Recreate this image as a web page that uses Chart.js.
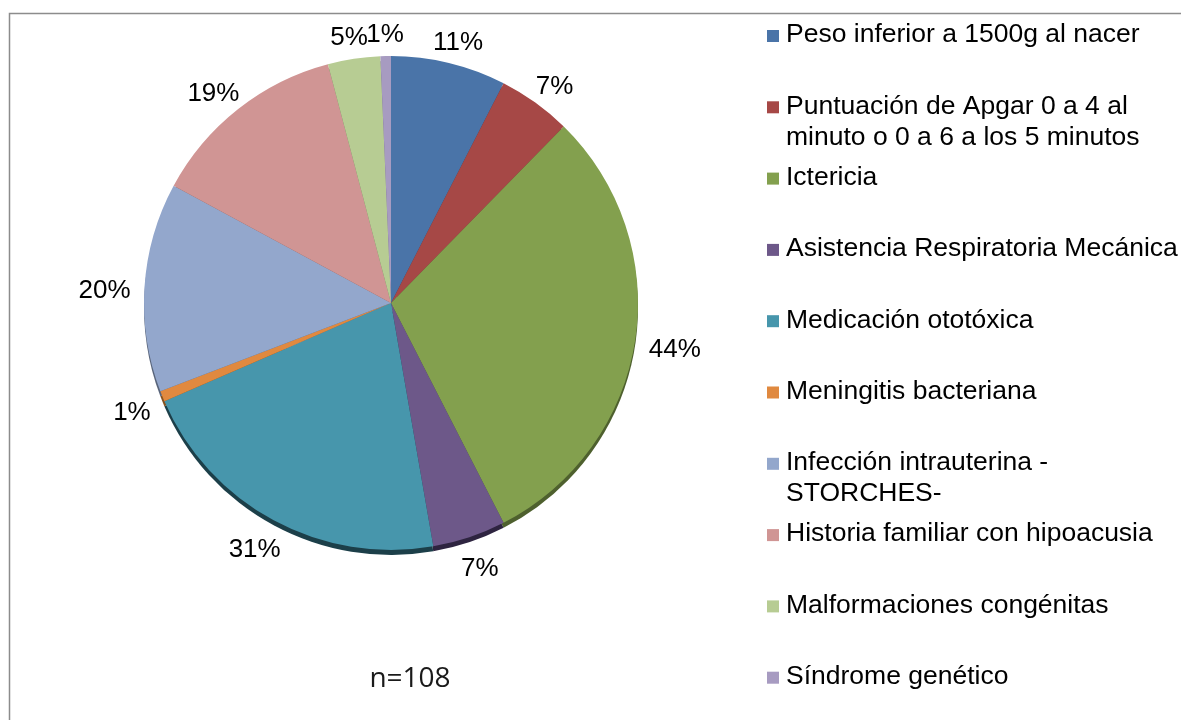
<!DOCTYPE html>
<html>
<head>
<meta charset="utf-8">
<script src="https://cdn.jsdelivr.net/npm/chart.js@4"></script>
<style>
  html, body { margin: 0; padding: 0; background: #fff; }
  #wrap { width: 1181px; height: 720px; }
</style>
</head>
<body>
<div id="wrap"><canvas id="pie" width="1181" height="720"></canvas></div>
<script>
// Risk factors (percent of n=108, one child may have several)
const categories = [
  ["Peso inferior a 1500g al nacer"],
  ["Puntuación de Apgar 0 a 4 al", "minuto o 0 a 6 a los 5 minutos"],
  ["Ictericia"],
  ["Asistencia Respiratoria Mecánica"],
  ["Medicación ototóxica"],
  ["Meningitis bacteriana"],
  ["Infección intrauterina -", "STORCHES-"],
  ["Historia familiar con hipoacusia"],
  ["Malformaciones congénitas"],
  ["Síndrome genético"]
];
const percents = [11, 7, 44, 7, 31, 1, 20, 19, 5, 1];
const sliceColors = ["#4A74A8", "#A64846", "#83A04E", "#6D5889", "#4796AC",
                     "#E0893F", "#93A7CC", "#D09594", "#B7CC93", "#A79BC1"];
const edgeColors = ["#2C4566", "#632A29", "#4E602E", "#2E2440", "#1C3F49",
                    "#86521F", "#58647A", "#7D5958", "#6E7A58", "#645D73"];
const sampleNote = "n=108";

const FONT = "'Liberation Sans', Arial, sans-serif";

// gray frame around the chart
const framePlugin = {
  id: "frame",
  beforeDraw(chart) {
    const ctx = chart.ctx;
    ctx.save();
    ctx.strokeStyle = "#8c8c8c";
    ctx.lineWidth = 1.5;
    ctx.strokeRect(9.5, 13.5, 1200, 800);
    ctx.restore();
  }
};

// darker rim under the pie, fakes the 3D edge
const rimPlugin = {
  id: "rim",
  beforeDatasetsDraw(chart) {
    const ctx = chart.ctx;
    const arcs = chart.getDatasetMeta(0).data;
    ctx.save();
    arcs.forEach((arc, i) => {
      const p = arc.getProps(["x", "y", "startAngle", "endAngle", "outerRadius"], true);
      ctx.beginPath();
      ctx.moveTo(p.x, p.y + 5);
      ctx.arc(p.x, p.y + 5, p.outerRadius, p.startAngle, p.endAngle);
      ctx.closePath();
      ctx.fillStyle = edgeColors[i];
      ctx.fill();
    });
    ctx.restore();
  }
};

// percent labels just outside each slice
const pctLabelPlugin = {
  id: "pctLabels",
  afterDatasetsDraw(chart) {
    const ctx = chart.ctx;
    const arcs = chart.getDatasetMeta(0).data;
    ctx.save();
    ctx.font = "26px " + FONT;
    ctx.fillStyle = "#000";
    ctx.textAlign = "center";
    ctx.textBaseline = "middle";
    arcs.forEach((arc, i) => {
      const p = arc.getProps(["x", "y", "startAngle", "endAngle", "outerRadius"], true);
      const mid = (p.startAngle + p.endAngle) / 2;
      const dx = Math.cos(mid), dy = Math.sin(mid);
      const text = percents[i] + "%";
      const halfW = ctx.measureText(text).width / 2;
      const halfH = 13;
      const r = p.outerRadius + 14;
      const x = p.x + dx * r + dx * halfW;
      const y = p.y + 6 + dy * r + dy * halfH;
      ctx.fillText(text, x, y);
    });
    ctx.restore();
  }
};

// legend on the right, entries on an even pitch, long names wrap
const legendPlugin = {
  id: "sideLegend",
  afterDraw(chart) {
    const ctx = chart.ctx;
    const x0 = 767, top = 35, pitch = 71.3, lineH = 31;
    ctx.save();
    ctx.font = "26.5px " + FONT;
    ctx.textBaseline = "middle";
    ctx.textAlign = "left";
    categories.forEach((lines, i) => {
      const y = top + i * pitch;
      ctx.fillStyle = sliceColors[i];
      ctx.fillRect(x0, y - 5, 12, 12);
      ctx.fillStyle = "#000";
      lines.forEach((t, k) => ctx.fillText(t, x0 + 19, y + k * lineH));
    });
    // sample size note under the pie
    ctx.font = "28px 'Open Sans', 'Noto Sans', sans-serif";
    ctx.fillStyle = "#1a1a1a";
    ctx.textAlign = "center";
    ctx.fillText(sampleNote, 410, 679);
    ctx.restore();
  }
};

new Chart(document.getElementById("pie"), {
  type: "pie",
  data: {
    labels: categories.map(l => l.join(" ")),
    datasets: [{
      data: percents,
      backgroundColor: sliceColors,
      borderWidth: 0,
      hoverOffset: 0
    }]
  },
  options: {
    responsive: false,
    animation: false,
    layout: { padding: { left: 144, right: 543, top: 56, bottom: 170 } },
    plugins: {
      legend: { display: false },
      tooltip: { enabled: false }
    }
  },
  plugins: [framePlugin, rimPlugin, pctLabelPlugin, legendPlugin]
});
</script>
</body>
</html>
